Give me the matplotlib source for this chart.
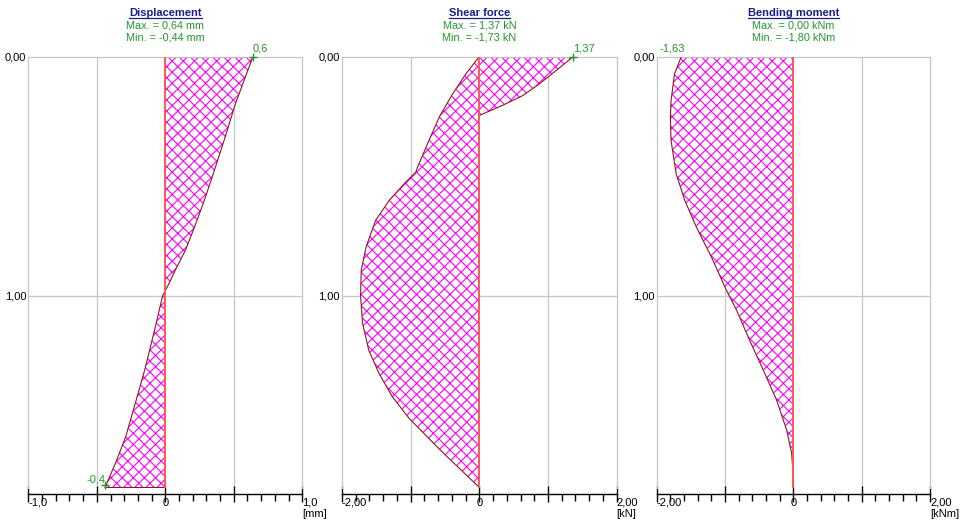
import numpy as np
import matplotlib
matplotlib.use('Agg')
import matplotlib.pyplot as plt
from matplotlib.lines import Line2D

plt.rcParams['font.family'] = ['Liberation Sans', 'DejaVu Sans']
plt.rcParams['hatch.linewidth'] = 0.8

# position along the member [m]
disp_y = [0, 0.1, 0.2, 0.34, 0.49, 0.6, 0.71, 0.81, 0.89, 0.95, 1.0, 1.13, 1.3, 1.45, 1.59, 1.7, 1.8]
disp_v = [0.64, 0.575, 0.51, 0.435, 0.35, 0.285, 0.215, 0.146, 0.075, 0.025, -0.02, -0.073, -0.146, -0.22, -0.29, -0.365, -0.44]

shear_top_y = [0, 0.058, 0.114, 0.163, 0.197, 0.228, 0.246]
shear_top_v = [1.37, 1.12, 0.876, 0.633, 0.39, 0.146, 0.0]
shear_y = [0, 0.072, 0.156, 0.253, 0.364, 0.462, 0.483, 0.524, 0.60, 0.684, 0.796, 0.893,
           1.0, 1.115, 1.227, 1.324, 1.42, 1.512, 1.646, 1.8]
shear_v = [0, -0.195, -0.389, -0.584, -0.754, -0.90, -0.925, -1.07, -1.31, -1.51, -1.65, -1.72,
           -1.73, -1.70, -1.61, -1.46, -1.27, -1.02, -0.56, 0.0]

moment_y = [0, 0.074, 0.185, 0.254, 0.351, 0.49, 0.60, 0.712, 0.837, 0.976, 1.06, 1.185,
            1.31, 1.435, 1.56, 1.657, 1.754, 1.8]
moment_v = [-1.64, -1.74, -1.79, -1.80, -1.79, -1.715, -1.59, -1.42, -1.20, -0.98, -0.83, -0.64,
            -0.44, -0.245, -0.098, -0.025, 0, 0]

titles = ['Displacement', 'Shear force', 'Bending moment']
max_txt = ['Max. = 0,64 mm', 'Max. = 1,37 kN', 'Max. = 0,00 kNm']
min_txt = ['Min. = -0,44 mm', 'Min. = -1,73 kN', 'Min. = -1,80 kNm']
units = ['[mm]', '[kN]', '[kNm]']
xlims = [1.0, 2.0, 2.0]
xlabels = [['-1,0', '', '0', '', '1,0'], ['-2,00', '', '0', '', '2,00'], ['-2,00', '', '0', '', '2,00']]
ylabels = ['0,00', '1,00']

W, H = 973, 522
fig = plt.figure(figsize=(W / 100, H / 100), dpi=100)

left_px = [28.3, 342.0, 656.7]
right_px = [302.3, 616.7, 930.0]
top_px, bot_px = 56.5, 487.5

BLUE = '#1c1c8a'
GREEN = '#22962a'
GRID = '#c6c6c6'
HATCH = '#ff00ff'
EDGE = '#8a1a1a'
ZERO = '#ff5555'

axes = []
for i in range(3):
    ax = fig.add_axes([left_px[i] / W, 1 - bot_px / H, (right_px[i] - left_px[i]) / W, (bot_px - top_px) / H])
    lim = xlims[i]
    ax.set_xlim(-lim, lim)
    ax.set_ylim(1.8, 0)
    for s in ['top', 'left', 'right']:
        ax.spines[s].set_color(GRID)
        ax.spines[s].set_linewidth(0.9)
    ax.spines['bottom'].set_position(('outward', 5))
    ax.spines['bottom'].set_linewidth(1.0)
    ax.axvline(-lim / 2, color=GRID, lw=0.9, zorder=0)
    ax.axvline(lim / 2, color=GRID, lw=0.9, zorder=0)
    ax.axhline(1.0, color=GRID, lw=0.9, zorder=0)

    ax.set_xticks(np.linspace(-lim, lim, 5))
    ax.set_xticks(np.linspace(-lim, lim, 21), minor=True)
    ax.set_xticklabels(xlabels[i])
    ax.tick_params(axis='x', which='major', direction='inout', length=11, width=1.0,
                   labelsize=8, pad=-3)
    ax.tick_params(axis='x', which='minor', direction='out', length=5, width=1.0)
    tl = ax.get_xticklabels()
    tl[0].set_ha('left')
    tl[-1].set_ha('left')
    ax.text(lim, -0.061, units[i], transform=ax.get_xaxis_transform(), ha='left', va='center', fontsize=8)

    ax.set_yticks([0, 1])
    ax.set_yticklabels(ylabels)
    ax.tick_params(axis='y', length=0, pad=1.5, labelsize=8)

    cx = (left_px[i] + right_px[i]) / 2 / W
    fig.text(cx, 1 - 12.5 / H, titles[i], ha='center', va='center', fontsize=8,
             fontweight='bold', color=BLUE)
    fig.text(cx, 1 - 25.5 / H, max_txt[i], ha='center', va='center', fontsize=7.8, color=GREEN)
    fig.text(cx, 1 - 37.5 / H, min_txt[i], ha='center', va='center', fontsize=7.8, color=GREEN)
    axes.append(ax)


def diagram(ax, y, v):
    ax.fill_betweenx(y, 0, v, facecolor='white', edgecolor=HATCH, linewidth=0, hatch='xxx', zorder=2)
    ax.plot([0] + list(v) + [0], [y[0]] + list(y) + [y[-1]], color=EDGE, lw=0.8, zorder=3)


ax1, ax2, ax3 = axes
diagram(ax1, disp_y, disp_v)
diagram(ax2, shear_top_y, shear_top_v)
diagram(ax2, shear_y, shear_v)
diagram(ax3, moment_y, moment_v)
for ax in axes:
    ax.plot([0, 0], [0, 1.8], color=ZERO, lw=1.4, zorder=4)

# extreme value markers
ax1.plot(disp_v[0], disp_y[0], '+', color=GREEN, ms=6, mew=1, zorder=5, clip_on=False)
ax1.annotate('0,6', (disp_v[0], disp_y[0]), xytext=(0, 2), textcoords='offset points',
             ha='left', va='bottom', fontsize=8, color=GREEN, annotation_clip=False)
ax1.plot(disp_v[-1], disp_y[-1] - 0.01, '+', color=GREEN, ms=6, mew=1, zorder=5, clip_on=False)
ax1.annotate('-0,4', (disp_v[-1], disp_y[-1]), xytext=(0, 2), textcoords='offset points',
             ha='right', va='bottom', fontsize=8, color=GREEN, annotation_clip=False)
ax2.plot(shear_top_v[0], shear_top_y[0], '+', color=GREEN, ms=6, mew=1, zorder=5, clip_on=False)
ax2.annotate('1,37', (shear_top_v[0], shear_top_y[0]), xytext=(0, 2), textcoords='offset points',
             ha='left', va='bottom', fontsize=8, color=GREEN, annotation_clip=False)
ax3.annotate('-1,63', (moment_v[0], moment_y[0]), xytext=(3, 2), textcoords='offset points',
             ha='right', va='bottom', fontsize=8, color=GREEN, annotation_clip=False)

# underline titles
fig.canvas.draw()
r = fig.canvas.get_renderer()
for t in fig.texts:
    if t.get_text() in titles:
        bb = t.get_window_extent(r)
        yl = bb.y0 - 0.5
        fig.add_artist(Line2D([bb.x0 / W, bb.x1 / W], [yl / H, yl / H], color=BLUE, lw=0.9))

fig.savefig('out.png', dpi=100)
